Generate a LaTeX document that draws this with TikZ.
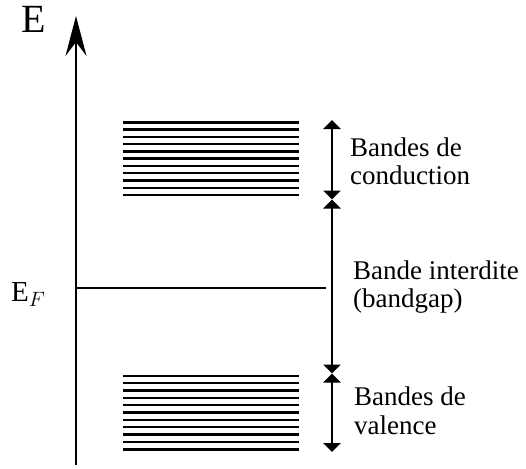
\documentclass[tikz,border=0pt]{standalone}
\usepackage{fontspec}
\setmainfont{Liberation Serif}
\usetikzlibrary{arrows.meta}
\begin{document}
\begin{tikzpicture}[x=1pt,y=-1pt,
  band/.style={line width=2.4pt},
  axis/.style={line width=2.4pt,-{Stealth[length=40pt,width=21pt,inset=14pt]}},
  rangearrow/.style={line width=2.3pt,{Triangle[length=9pt,width=17pt]}-{Triangle[length=9pt,width=17pt]}},
  lbl/.style={inner sep=0pt,anchor=base west,align=left,font=\fontsize{27}{28.5}\selectfont}]
\useasboundingbox (0,0) rectangle (526,468);
% axis
\coordinate (a0) at (76,465);
\coordinate (a1) at (76,16);
\draw[axis] (a0) -- (a1);
\node[inner sep=0pt,anchor=base,font=\fontsize{40}{40}\selectfont] (E) at (34,33) {E};
% Fermi level
\coordinate (f0) at (76,288);
\coordinate (f1) at (326,288);
\draw[line width=2.2pt] (f0) -- (f1);
\node[inner sep=0pt,anchor=base west,font=\fontsize{29}{29}\selectfont] (EF) at (11,301) {$\mathrm{E}_F$};
% bands
\foreach \i in {0,...,10}{
  \draw[band] (123,122.3+7.27*\i) -- (299,122.3+7.27*\i);
  \draw[band] (123,375.7+7.36*\i) -- (299,375.7+7.36*\i);
}
% ranges
\coordinate (r0) at (332,120);
\coordinate (r1) at (332,199.5);
\coordinate (r2) at (332,373.5);
\coordinate (r3) at (332,452);
\draw[rangearrow] (r0) -- (r1);
\draw[rangearrow] (r1) -- (r2);
\draw[rangearrow] (r2) -- (r3);
% labels (base = last line)
\node[lbl] (cond) at (350,184.5) {Bandes de\\conduction};
\node[lbl] (gap) at (353,307.5) {Bande interdite\\(bandgap)};
\node[lbl] (val) at (354,434) {Bandes de\\valence};
\end{tikzpicture}
\end{document}
